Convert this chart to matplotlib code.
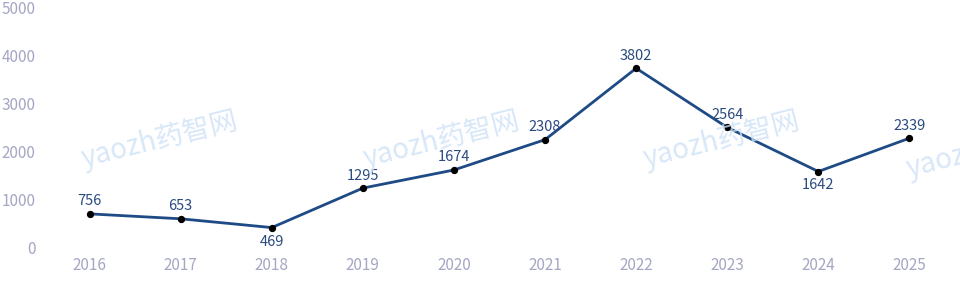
import matplotlib
matplotlib.use("Agg")
import matplotlib.pyplot as plt
import matplotlib.transforms as mtransforms

plt.rcParams['font.family'] = ['Noto Sans CJK SC', 'DejaVu Sans']

years = ['2016', '2017', '2018', '2019', '2020', '2021', '2022', '2023', '2024', '2025']
values = [756, 653, 469, 1295, 1674, 2308, 3802, 2564, 1642, 2339]
label_below = [False, False, True, False, False, False, False, False, True, False]
yticks = [0, 1000, 2000, 3000, 4000, 5000]

fig = plt.figure(figsize=(9.6, 2.87), dpi=100)
ax = fig.add_axes([44/960, 37/287, 911/960, 239/287])

# watermarks
for (wx, wy) in [(160, 140), (442, 140), (722, 140), (985, 150)]:
    fig.text(wx/960, 1 - wy/287, 'yaozh药智网', color='#cfe2f7', fontsize=20,
             rotation=14, ha='center', va='center', alpha=0.8, zorder=0)

x = list(range(len(years)))
ax.plot(x, values, color='#1e4a85', lw=2, zorder=3)
ax.scatter(x, values, color='black', s=18, zorder=4)
for xi, v, below in zip(x, values, label_below):
    if below:
        ax.annotate(str(v), (xi, v), xytext=(0, -5), textcoords='offset points',
                    ha='center', va='top', fontsize=10.5, color='#2a4a7f')
    else:
        ax.annotate(str(v), (xi, v), xytext=(0, 4), textcoords='offset points',
                    ha='center', va='bottom', fontsize=10.5, color='#2a4a7f')

ax.set_xlim(-0.5, len(years) - 0.5)
ax.set_ylim(0, 5000)
ax.set_xticks(x)
ax.set_xticklabels(years)
ax.set_yticks(yticks)
ax.tick_params(axis='both', length=0, labelsize=11, colors='#a3a7c2')
ax.tick_params(axis='x', pad=5)
ax.tick_params(axis='y', pad=6)
shift = mtransforms.ScaledTranslation(0, 3/100, fig.dpi_scale_trans)
for lbl in ax.get_yticklabels():
    lbl.set_transform(lbl.get_transform() + shift)
for s in ax.spines.values():
    s.set_visible(False)
ax.patch.set_alpha(0)

fig.savefig('out.png', dpi=100)
